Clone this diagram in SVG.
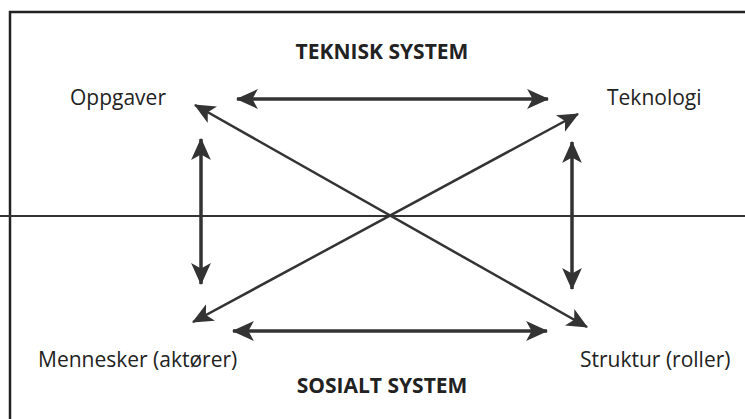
<svg xmlns="http://www.w3.org/2000/svg" width="745" height="419" viewBox="0 0 745 419">
<style>
.lbl{font-family:"Open Sans","DejaVu Sans",sans-serif;font-size:21px;fill:#222}
.ttl{font-family:"Open Sans","DejaVu Sans",sans-serif;font-size:21px;font-weight:bold;fill:#222}
.con{stroke:#333;stroke-width:3.5;fill:none;marker-start:url(#ah);marker-end:url(#ah)}
.dia{stroke-width:2.5;marker-start:url(#ad);marker-end:url(#ad)}
</style>
<defs>
<marker id="ah" viewBox="0 0 20 20" refX="19" refY="10" markerWidth="22" markerHeight="22" markerUnits="userSpaceOnUse" orient="auto-start-reverse">
<path d="M0,1 L20,10 L0,19 L5,10 z" fill="#333"/>
</marker>
<marker id="ad" viewBox="0 0 20 20" refX="19" refY="10" markerWidth="21" markerHeight="21" markerUnits="userSpaceOnUse" orient="auto-start-reverse">
<path d="M0,1 L20,10 L0,19 L5,10 z" fill="#333"/>
</marker>
</defs>
<rect x="0" y="0" width="745" height="419" fill="#fff"/>
<g id="frame">
<path d="M10,425 L10,12 L750,12" fill="none" stroke="#222" stroke-width="2.5"/>
<line x1="0" y1="216" x2="745" y2="216" stroke="#333" stroke-width="2"/>
</g>
<g id="connectors">
<line class="con" x1="237" y1="99" x2="548" y2="99"/>
<line class="con" x1="233" y1="331" x2="547" y2="331"/>
<line class="con" x1="201" y1="139" x2="201" y2="284"/>
<line class="con" x1="572" y1="142" x2="572" y2="289"/>
<line class="con dia" x1="195" y1="105" x2="587" y2="327"/>
<line class="con dia" x1="578" y1="114" x2="193" y2="322"/>
</g>
<g id="teknisk"><text class="ttl" x="382" y="59" text-anchor="middle">TEKNISK SYSTEM</text></g>
<g id="sosialt"><text class="ttl" x="382" y="393" text-anchor="middle">SOSIALT SYSTEM</text></g>
<g id="oppgaver"><text class="lbl" x="70" y="105">Oppgaver</text></g>
<g id="teknologi"><text class="lbl" x="607" y="105">Teknologi</text></g>
<g id="mennesker"><text class="lbl" x="38" y="367">Mennesker (aktører)</text></g>
<g id="struktur"><text class="lbl" x="580" y="367">Struktur (roller)</text></g>
</svg>
